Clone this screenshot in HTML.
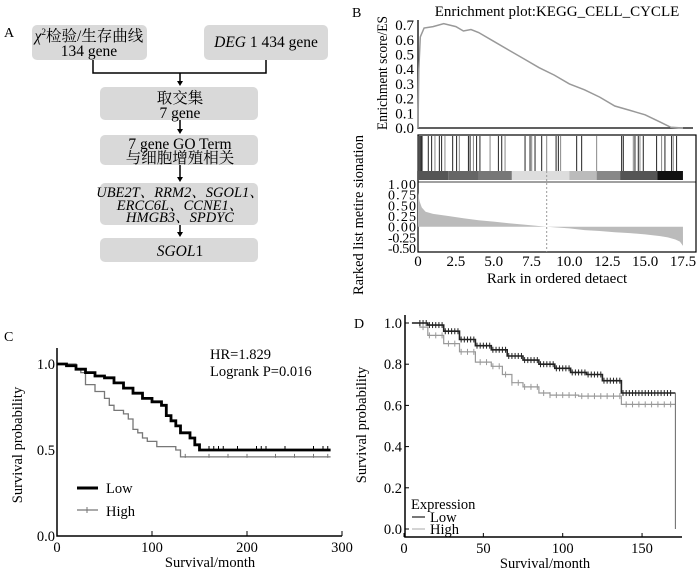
<!DOCTYPE html>
<html><head><meta charset="utf-8">
<style>
body{margin:0;background:#fff;width:700px;height:572px;overflow:hidden;font-family:"Liberation Serif","Noto Serif CJK SC",serif;}
svg text{font-family:"Liberation Serif","Noto Serif CJK SC",serif;}
</style></head>
<body>
<svg id="fig" width="700" height="572" viewBox="0 0 700 572" xmlns="http://www.w3.org/2000/svg">
<!-- Panel A -->
<g font-size="15.5">
<text x="4" y="37" font-size="14">A</text>
<g>
<rect x="32" y="25" width="115" height="35" rx="5" fill="#d9d9d9"/>
<text x="89" y="41" text-anchor="middle"><tspan font-style="italic">χ</tspan><tspan font-size="9" dy="-6">2</tspan><tspan dy="6">检验/生存曲线</tspan></text>
<text x="89" y="56" text-anchor="middle">134 gene</text></g>
<g>
<rect x="204" y="25" width="124" height="35" rx="5" fill="#d9d9d9"/>
<text x="266" y="47" text-anchor="middle"><tspan font-style="italic">DEG</tspan> 1 434 gene</text></g>
<path d="M93 60V73H266V60M180 73V81" fill="none" stroke="#000" stroke-width="1.5"/>
<path d="M177 81L183 81L180 86z" fill="#000"/>
<g>
<rect x="100" y="87" width="158" height="33" rx="5" fill="#d9d9d9"/>
<text x="180" y="103" text-anchor="middle">取交集</text><text x="180" y="118" text-anchor="middle">7 gene</text></g>
<path d="M180 120V130" stroke="#000" stroke-width="1.5"/><path d="M177 129L183 129L180 134z" fill="#000"/>
<g>
<rect x="100" y="135" width="158" height="30" rx="5" fill="#d9d9d9"/>
<text x="180" y="149" text-anchor="middle">7 gene GO Term</text><text x="180" y="163" text-anchor="middle">与细胞增殖相关</text></g>
<path d="M180 165V177" stroke="#000" stroke-width="1.5"/><path d="M177 177L183 177L180 182z" fill="#000"/>
<g font-style="italic">
<rect x="100" y="183" width="158" height="42" rx="5" fill="#d9d9d9"/>
<text x="180" y="197" text-anchor="middle" font-size="14.5">UBE2T、RRM2、SGOL1、</text>
<text x="180" y="210" text-anchor="middle" font-size="14.5">ERCC6L、CCNE1、</text>
<text x="180" y="222" text-anchor="middle" font-size="14.5">HMGB3、SPDYC</text></g>
<path d="M180 225V232" stroke="#000" stroke-width="1.5"/><path d="M177 232L183 232L180 237z" fill="#000"/>
<g>
<rect x="100" y="238" width="158" height="24" rx="5" fill="#d9d9d9"/>
<text x="180" y="256" text-anchor="middle"><tspan font-style="italic">SGOL</tspan>1</text></g>
</g>

<!-- Panel B -->
<g id="pb">
<text x="352" y="17" font-size="14">B</text>
<text x="557" y="16" font-size="15" text-anchor="middle">Enrichment plot:KEGG_CELL_CYCLE</text>
<text transform="translate(387,73) rotate(-90)" font-size="15" text-anchor="middle" textLength="114" lengthAdjust="spacingAndGlyphs">Enrichment score/ES</text>
<text transform="translate(363,215) rotate(-90)" font-size="15" text-anchor="middle" textLength="160" lengthAdjust="spacingAndGlyphs">Rarked list metire sionation</text>
<text x="557" y="283" font-size="15" text-anchor="middle">Rark in ordered detaect</text>
</g>

<!-- Panel C -->
<g id="pc">
<text x="4" y="341" font-size="14">C</text>
<text transform="translate(22,445) rotate(-90)" font-size="14.5" text-anchor="middle">Survival probability</text>
<text x="210" y="567" font-size="14.5" text-anchor="middle">Survival/month</text>
<text x="210" y="359" font-size="14.5">HR=1.829</text>
<text x="210" y="376" font-size="14.5">Logrank P=0.016</text>
<g>
<line x1="77" y1="488" x2="98" y2="488" stroke="#000" stroke-width="3"/><text x="106" y="493" font-size="14.5">Low</text>
<line x1="77" y1="510" x2="98" y2="510" stroke="#777" stroke-width="1.2"/><line x1="87" y1="507" x2="87" y2="513" stroke="#777"/><text x="106" y="516" font-size="14.5">High</text>
</g>
</g>

<!-- Panel D -->
<g id="pd">
<text x="354" y="328" font-size="14">D</text>
<text transform="translate(366,425) rotate(-90)" font-size="14.5" text-anchor="middle">Survival probability</text>
<text x="545" y="568" font-size="14.5" text-anchor="middle">Survival/month</text>
<g font-size="14.5">
<text x="411" y="509">Expression</text>
<line x1="412" y1="517" x2="425" y2="517" stroke="#777" stroke-width="2"/><text x="430" y="522">Low</text>
<line x1="412" y1="529" x2="425" y2="529" stroke="#aaa" stroke-width="1"/><text x="430" y="534">High</text>
</g>
</g>
</svg>
<script>
// ---- Panel B data ----
const esRank=[0,0.05,0.15,0.4,1,1.7,2.5,3,3.5,4,5,6,7,8,9,10,11,12,13,14,15,16,16.7,17.5];
const esVal=[0,0.4,0.62,0.68,0.69,0.71,0.69,0.66,0.67,0.65,0.59,0.53,0.47,0.41,0.36,0.30,0.26,0.21,0.15,0.12,0.09,0.04,0.005,0];
const esTicks=["0.0","0.1","0.2","0.3","0.4","0.5","0.6","0.7"];
const hitRanks=[0,0.03,0.06,0.09,0.12,0.15,0.18,0.21,0.24,0.27,0.3,0.68,0.9,1.12,1.41,1.56,1.78,2.29,2.55,2.73,3.33,3.44,3.66,3.87,4.09,4.76,5.31,5.53,5.75,7.07,7.4,7.51,7.73,8.17,8.5,9.12,9.27,9.42,10.48,10.81,11.8,13.45,13.56,14.22,14.33,14.55,14.66,14.88,15.76,16.09,16.31,16.75,16.86,17.08];
const barStart=[0,2,4,6.2,10,11.8,13.35,15.8];
const barEnd=[2,4,6.2,10,11.8,13.35,15.8,17.5];
const barShade=["#555","#666","#777","#ddd","#bbb","#888","#555","#111"];
const metRank=[0,0.1,0.25,0.5,1,2,3,4,5,6,7,8.5,10,11,12,13,14,15,16,16.5,17,17.3,17.5];
const metVal=[0.8,0.6,0.45,0.35,0.3,0.25,0.2,0.15,0.12,0.08,0.05,0,-0.04,-0.08,-0.1,-0.13,-0.15,-0.18,-0.22,-0.25,-0.3,-0.35,-0.45];
const metTicks=["1.00","0.75","0.50","0.25","0.00","-0.25","-0.50"];
const rankTicks=["0","2.5","5.0","7.5","10.0","12.5","15.0","17.5"];
const leadingEdge=8.5;
// ---- Panel C data ----
const cLowT=[0,10,20,30,40,50,60,70,80,90,100,110,115,120,125,130,135,140,145,150,288];
const cLowS=[1,0.99,0.97,0.95,0.93,0.92,0.89,0.86,0.83,0.8,0.78,0.76,0.7,0.67,0.64,0.6,0.6,0.57,0.53,0.5,0.5];
const cHighT=[0,20,25,30,40,50,55,60,70,75,80,85,90,95,105,110,125,130,135,288];
const cHighS=[1,0.97,0.95,0.88,0.84,0.8,0.76,0.73,0.71,0.68,0.62,0.6,0.57,0.55,0.52,0.52,0.5,0.46,0.46,0.46];
const cLowCens=[160,165,170,175,190,210,215,220,240,270,280,285];
const cHighCens=[135,160,180,200,230,250,270,285];
const cXTicks=[0,100,200,300];
const cYTicks=[0,0.5,1.0];
// ---- Panel D data ----
const dLowT=[5,15,25,35,45,55,65,75,85,95,105,115,125,137,171];
const dLowS=[1,0.99,0.96,0.92,0.89,0.87,0.84,0.82,0.8,0.78,0.76,0.75,0.72,0.66,0.66];
const dHighT=[5,10,15,25,35,45,55,62,68,75,85,92,110,137,171];
const dHighS=[1,0.98,0.94,0.9,0.86,0.81,0.79,0.75,0.71,0.69,0.66,0.65,0.645,0.605,0.605];
const dXTicks=[0,50,100,150];
const dYTicks=[0,0.2,0.4,0.6,0.8,1.0];

const NS="http://www.w3.org/2000/svg";
function mk(parent,tag,attrs){const e=document.createElementNS(NS,tag);for(const k in attrs)e.setAttribute(k,attrs[k]);parent.appendChild(e);return e;}
function txt(parent,x,y,s,anchor,size){const t=mk(parent,'text',{x:x,y:y,'text-anchor':anchor||'middle','font-size':size||13});t.textContent=s;return t;}

// Panel B
const pb=document.getElementById('pb');
const bx=r=>418+r*15.14;
const esY=v=>128-v*147;
const mY=v=>226.7-v*42.7;
let el=mk(pb,'path',{d:'M418 20V128H693',fill:'none',stroke:'#000','stroke-width':1.3});


esTicks.forEach((s,i)=>{const t=txt(pb,414,esY(i*0.1)+5,s,'end',15);

});
el=mk(pb,'path',{d:esRank.map((r,i)=>(i?'L':'M')+bx(r).toFixed(1)+' '+esY(esVal[i]).toFixed(1)).join(''),fill:'none',stroke:'#999','stroke-width':1.5});


el=mk(pb,'rect',{x:418,y:135,width:278,height:117,fill:'none',stroke:'#000','stroke-width':1.2});


mk(pb,'line',{x1:418,y1:182,x2:696,y2:182,stroke:'#000','stroke-width':0.8});
hitRanks.forEach((r,i)=>{const l=mk(pb,'line',{x1:bx(r),y1:136,x2:bx(r),y2:171,stroke:(i%3==1?'#888':'#222'),'stroke-width':1});

});
barStart.forEach((s,i)=>{const rc=mk(pb,'rect',{x:bx(s),y:171,width:bx(barEnd[i])-bx(s),height:9,fill:barShade[i]});

});
let md='M'+bx(0)+' '+mY(0);
metRank.forEach((r,i)=>{md+='L'+bx(r).toFixed(1)+' '+mY(metVal[i]).toFixed(1);});
md+='L'+bx(17.5)+' '+mY(0)+'Z';
el=mk(pb,'path',{d:md,fill:'#bbb',stroke:'none'});


el=mk(pb,'line',{x1:bx(leadingEdge),y1:171,x2:bx(leadingEdge),y2:252,stroke:'#999','stroke-dasharray':'2,2'});


metTicks.forEach((s,i)=>{const t=txt(pb,416,mY(1-i*0.25)+5,s,'end',14);


t.setAttribute('textLength','28');});
rankTicks.forEach((s,i)=>{const t=txt(pb,bx(i*2.5),266,s,'middle',15);

});

function km(g,T,S,xf,yf,color,w,name){
 let d='M'+xf(T[0])+' '+yf(S[0]);
 for(let i=1;i<T.length;i++){d+='H'+xf(T[i]).toFixed(1)+'V'+yf(S[i]).toFixed(1);}
 const p=mk(g,'path',{d:d,fill:'none',stroke:color,'stroke-width':w});
 
 
}
function survAt(T,S,t){let s=S[0];for(let i=0;i<T.length;i++){if(T[i]<=t)s=S[i];}return s;}
// Panel C
const pc=document.getElementById('pc');
const cx=t=>57+t*0.95, cy=v=>536-v*172;
el=mk(pc,'path',{d:'M57 348V536H342',fill:'none',stroke:'#000','stroke-width':1.5});


cXTicks.forEach(v=>{mk(pc,'line',{x1:cx(v),y1:536,x2:cx(v),y2:531,stroke:'#000'});const t=txt(pc,cx(v),552,String(v),'middle',14.5);

});
cYTicks.forEach(v=>{const t=txt(pc,55,cy(v)+5,v.toFixed(1),'end',14.5);

});
km(pc,cHighT,cHighS,cx,cy,'#777',1.3,'c-high-curve');
km(pc,cLowT,cLowS,cx,cy,'#000',2.8,'c-low-curve');
cLowCens.forEach(t=>{const l=mk(pc,'line',{x1:cx(t),y1:cy(survAt(cLowT,cLowS,t))-4,x2:cx(t),y2:cy(survAt(cLowT,cLowS,t))+1,stroke:'#000'});

});
cHighCens.forEach(t=>{const l=mk(pc,'line',{x1:cx(t),y1:cy(survAt(cHighT,cHighS,t))-3,x2:cx(t),y2:cy(survAt(cHighT,cHighS,t))+1,stroke:'#777'});

});
// Panel D
const pd=document.getElementById('pd');
const dx=t=>404+t*1.587, dy=v=>529-v*206;
el=mk(pd,'path',{d:'M405 315V537H682',fill:'none',stroke:'#000','stroke-width':1.5});


dXTicks.forEach(v=>{mk(pd,'line',{x1:dx(v),y1:537,x2:dx(v),y2:533,stroke:'#000'});const t=txt(pd,dx(v),553,String(v),'middle',14.5);

});
dYTicks.forEach(v=>{mk(pd,'line',{x1:405,y1:dy(v),x2:409,y2:dy(v),stroke:'#000'});const t=txt(pd,402,dy(v)+5,v.toFixed(1),'end',14.5);

});
km(pd,dHighT,dHighS,dx,dy,'#999',1.2,'d-high-curve');
km(pd,dLowT,dLowS,dx,dy,'#222',1.6,'d-low-curve');
el=mk(pd,'line',{x1:dx(171),y1:dy(dLowS[dLowS.length-1]),x2:dx(171),y2:dy(0),stroke:'#666','stroke-width':1});


for(let t=10;t<170;t+=2){
 const l=mk(pd,'line',{x1:dx(t),y1:dy(survAt(dLowT,dLowS,t))-3,x2:dx(t),y2:dy(survAt(dLowT,dLowS,t))+3,stroke:'#222'});
 
 
 if(t%4==0){const h=mk(pd,'line',{x1:dx(t),y1:dy(survAt(dHighT,dHighS,t))-3,x2:dx(t),y2:dy(survAt(dHighT,dHighS,t))+3,stroke:'#999'});
 
 }
}
</script>
</body></html>
